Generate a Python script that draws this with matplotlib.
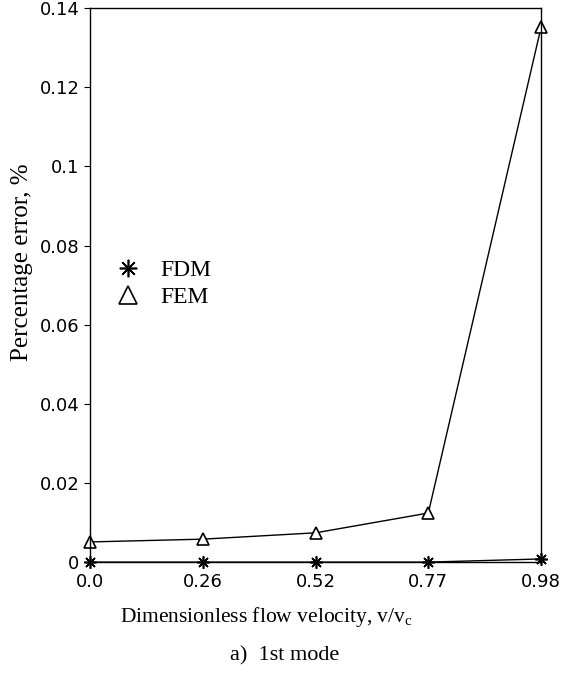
import matplotlib
matplotlib.use("Agg")
import matplotlib.pyplot as plt

categories = ["0.0", "0.26", "0.52", "0.77", "0.98"]
fdm = [0.0, 0.0, 0.0, 0.0, 0.0008]
fem = [0.0051, 0.0058, 0.0074, 0.0124, 0.1352]
yticks = [0, 0.02, 0.04, 0.06, 0.08, 0.1, 0.12, 0.14]
ytick_labels = ["0", "0.02", "0.04", "0.06", "0.08", "0.1", "0.12", "0.14"]

fig = plt.figure(figsize=(5.69, 6.74), dpi=100)
ax = fig.add_axes([0.158, 0.166, 0.793, 0.822])
x = list(range(len(categories)))
ax.plot(x, fdm, color="black", lw=1.0, marker=(8, 2, 0), ms=9, mew=1.2,
        label="FDM", clip_on=False)
ax.plot(x, fem, color="black", lw=1.0, marker="^", ms=9, mfc="white", mew=1.2,
        label="FEM", clip_on=False)
ax.set_xlim(0, 4)
ax.set_ylim(0, 0.14)
ax.set_xticks(x)
ax.set_xticklabels(categories, fontsize=13, family="DejaVu Sans")
ax.set_yticks(yticks)
ax.set_yticklabels(ytick_labels, fontsize=13, family="DejaVu Sans")
ax.tick_params(axis="x", length=0, pad=8)
ax.tick_params(axis="y", length=4, direction="out")
for s in ax.spines.values():
    s.set_linewidth(1.0)
ax.set_ylabel("Percentage error, %", fontsize=18, family="Liberation Serif")
ax.yaxis.set_label_coords(-0.125, 0.542)
ax.set_xlabel("Dimensionless flow velocity, v/v$_\\mathregular{c}$", fontsize=15.5,
              family="Liberation Serif")
ax.xaxis.set_label_coords(0.39, -0.077)
fig.text(0.5, 1 - 656 / 674, "a)  1st mode", fontsize=16, family="Liberation Serif",
         ha="center", va="center")
ax.legend(loc="upper left", bbox_to_anchor=(0.0, 0.585), frameon=False,
          prop={"family": "Liberation Serif", "size": 17}, handlelength=1.4,
          handletextpad=0.7, labelspacing=0.25, markerscale=1.4)
for ln in ax.get_legend().get_lines():
    ln.set_linestyle("none")
fig.savefig("out.png", dpi=100)
